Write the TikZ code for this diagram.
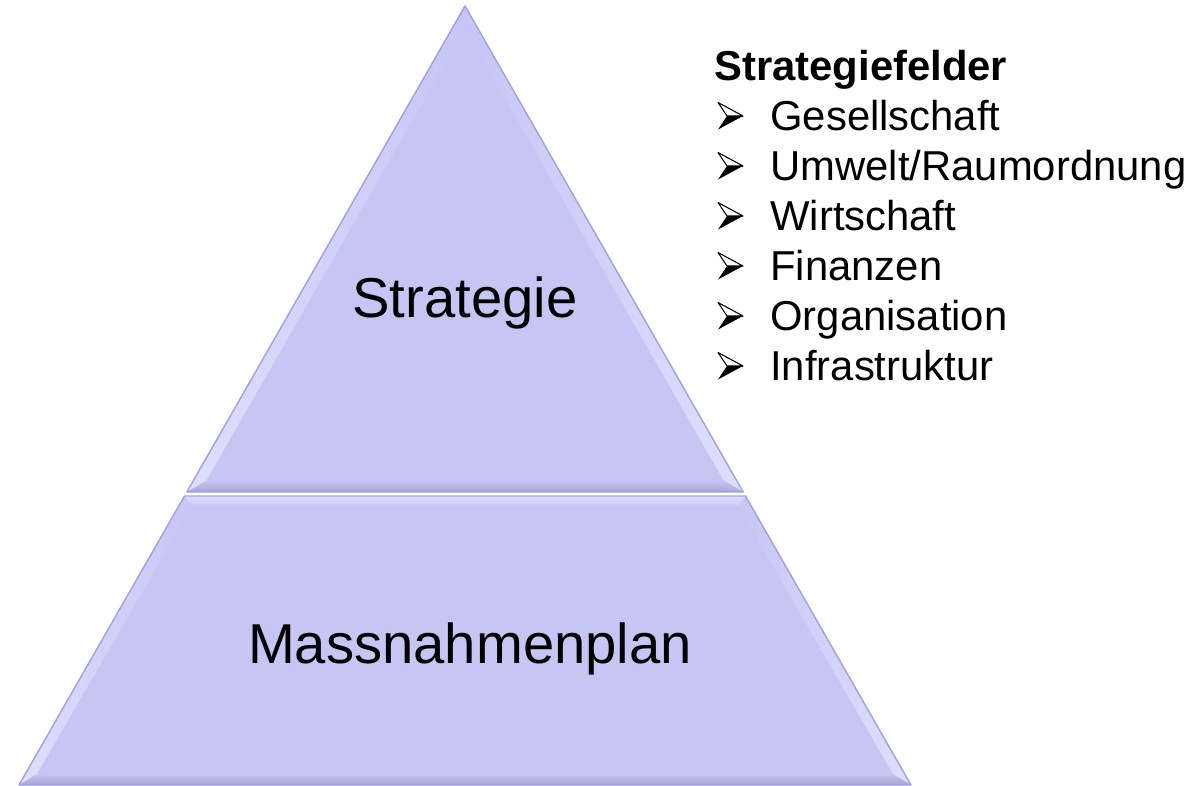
\documentclass[tikz,border=0pt]{standalone}
\usepackage{fontspec}
\setmainfont{Liberation Sans}
\usepackage{tikz}
\usetikzlibrary{calc}

\definecolor{pyrfill}{RGB}{198,198,245}
\definecolor{pyrlight}{RGB}{222,222,253}
\definecolor{pyrdark}{RGB}{165,165,212}
\definecolor{pyredge}{RGB}{160,160,228}

\begin{document}
\begin{tikzpicture}[x=0.02cm, y=-0.02cm,
    face/.style={fill=pyrfill},
    rim/.style={draw=pyredge, line width=0.8pt, line join=round},
    big/.style={font=\fontsize{32}{38}\selectfont, inner sep=0pt},
    small/.style={font=\fontsize{23.8}{28}\selectfont, inner sep=0pt},
    bullet/.pic={
        \filldraw[fill=white, draw=black, line width=0.6pt, line join=round]
            (0,-13.5) -- (25,0) -- (9,0) -- cycle;
        \fill[black] (9,0) -- (25,0) -- (0,13.5) -- cycle;
    }]

\useasboundingbox (0,0) rectangle (1194,785);

% ---- Coordinates ----
\coordinate (A) at (465,6);      % apex
\coordinate (B) at (186.8,492);  % strategy, base left
\coordinate (C) at (743.2,492);  % strategy, base right
\coordinate (I) at (465,330.7);  % incentre of the top triangle
\coordinate (D) at (184.5,496);  % measures, top left
\coordinate (E) at (745.5,496);  % measures, top right
\coordinate (F) at (911,785);    % measures, bottom right
\coordinate (G) at (19,785);     % measures, bottom left

% inner corners for the bevel
\coordinate (Ai) at ($(I)!0.93!(A)$);
\coordinate (Bi) at ($(I)!0.93!(B)$);
\coordinate (Ci) at ($(I)!0.93!(C)$);
\coordinate (Di) at (191.5,507);
\coordinate (Ei) at (738.5,507);
\coordinate (Fi) at (893,774);
\coordinate (Gi) at (37,774);

% ---- Top: Strategie ----
\fill[face] (A) -- (B) -- (C) -- cycle;
\shade[left color=pyrlight, right color=pyrfill] (A) -- (B) -- (Bi) -- (Ai) -- cycle;
\shade[left color=pyrfill, right color=pyrlight] (A) -- (C) -- (Ci) -- (Ai) -- cycle;
\shade[top color=pyrfill, bottom color=pyrdark] (Bi) -- (Ci) -- (C) -- (B) -- cycle;
\draw[rim] (A) -- (B) -- (C) -- cycle;

% ---- Bottom: Massnahmenplan ----
\fill[face] (D) -- (E) -- (F) -- (G) -- cycle;
\shade[top color=pyrlight, bottom color=pyrfill] (D) -- (E) -- (Ei) -- (Di) -- cycle;
\shade[left color=pyrlight, right color=pyrfill] (G) -- (D) -- (Di) -- (Gi) -- cycle;
\shade[left color=pyrfill, right color=pyrlight] (E) -- (F) -- (Fi) -- (Ei) -- cycle;
\shade[top color=pyrfill, bottom color=pyrdark] (Gi) -- (Fi) -- (F) -- (G) -- cycle;
\draw[rim] (D) -- (E) -- (F) -- (G) -- cycle;

% ---- Labels ----
\node[big, anchor=base] (strategie) at (465,317) {Strategie};
\node[big, anchor=base] (massnahmen) at (470,663) {Massnahmenplan};

% ---- Strategiefelder ----
\node[small, anchor=base west, font=\fontsize{23.8}{28}\selectfont\bfseries]
    (felder) at (714,80) {Strategiefelder};
\foreach \feld [count=\i] in {Gesellschaft, Umwelt/Raumordnung, Wirtschaft,
                              Finanzen, Organisation, Infrastruktur} {
    \pic at (718,80+50*\i-14) {bullet};
    \node[small, anchor=base west] (feld-\i) at (770,80+50*\i) {\feld};
}

\end{tikzpicture}
\end{document}
